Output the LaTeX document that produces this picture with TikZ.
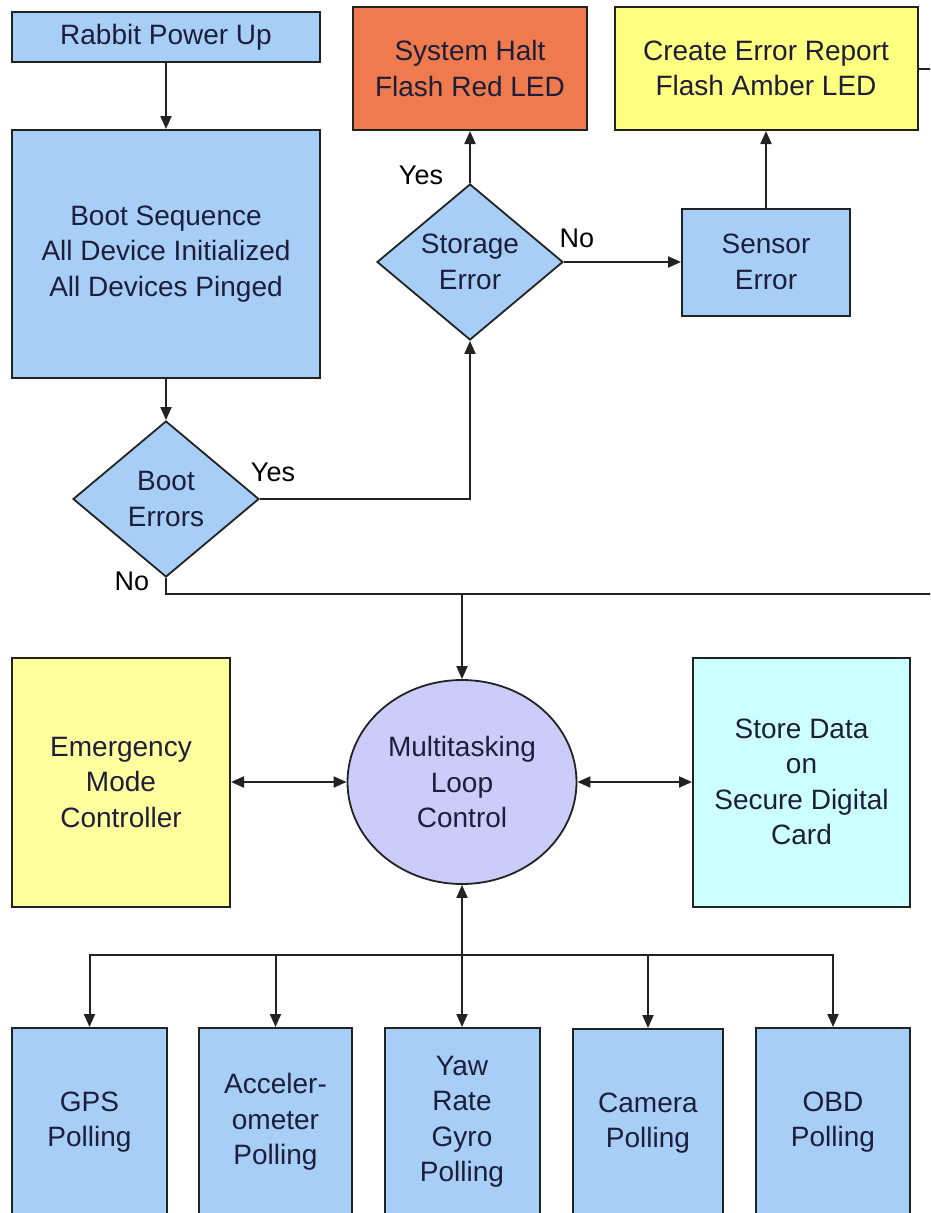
\documentclass[tikz,border=0pt]{standalone}
\usepackage{fontspec}
\setmainfont{Liberation Sans}
\usetikzlibrary{shapes.geometric,arrows.meta}
\definecolor{boxblue}{HTML}{A6CEF6}
\definecolor{haltred}{HTML}{EE7A4E}
\definecolor{reportyellow}{HTML}{FFFF80}
\definecolor{paleyellow}{HTML}{FFFF9E}
\definecolor{palecyan}{HTML}{CCFFFF}
\definecolor{lavender}{HTML}{CCCCFA}
\definecolor{edge}{HTML}{222222}
\definecolor{inkdark}{HTML}{1E1E3A}
\begin{document}
\begin{tikzpicture}[x=1pt,y=-1pt,
  every node/.style={font=\fontsize{28}{35.5}\selectfont, text=inkdark, align=center},
  block/.style={rectangle, draw=edge, line width=2pt, inner sep=0pt},
  decision/.style={diamond, draw=edge, fill=boxblue, line width=1.8pt, inner sep=0pt,
    minimum width=186pt, minimum height=156pt},
  link/.style={line width=2pt, draw=edge},
  arr/.style={link, -{Triangle[length=13pt,width=11pt]}},
  twoway/.style={link, {Triangle[length=13pt,width=11pt]}-{Triangle[length=13pt,width=11pt]}},
  tag/.style={font=\fontsize{27}{32}\selectfont, text=black}
]
\useasboundingbox (0,0) rectangle (930,1213);
\clip (0,0) rectangle (930,1213);

% start-up and error handling
\node[block, fill=boxblue, minimum width=308pt, minimum height=50pt] (power) at (166,37) {Rabbit Power Up};
\node[block, fill=boxblue, minimum width=308pt, minimum height=248pt] (boot) at (166,254)
  {Boot Sequence\\All Device Initialized\\All Devices Pinged};
\node[decision] (booterr) at (166,499) {Boot\\Errors};
\node[decision] (storage) at (470,262) {Storage\\Error};
\node[block, fill=haltred, minimum width=234pt, minimum height=123pt] (halt) at (470,68.5)
  {System Halt\\Flash Red LED};
\node[block, fill=boxblue, minimum width=168pt, minimum height=107pt] (sensor) at (766,262)
  {Sensor\\Error};
\node[block, fill=reportyellow, minimum width=303pt, minimum height=123pt] (report) at (766,68.5)
  {Create Error Report\\Flash Amber LED};

% main loop and its peers
\node[ellipse, draw=edge, fill=lavender, line width=1.8pt, inner sep=0pt,
  minimum width=229pt, minimum height=204pt] (loop) at (462,782) {Multitasking\\Loop\\Control};
\node[block, fill=paleyellow, minimum width=218pt, minimum height=249pt] (emerg) at (121,782)
  {Emergency\\Mode\\Controller};
\node[block, fill=palecyan, minimum width=217pt, minimum height=249pt] (store) at (801.5,782)
  {Store Data\\on\\Secure Digital\\Card};

% polling tasks
\node[block, fill=boxblue, minimum width=155pt, minimum height=188pt] (gps) at (89.5,1122) {GPS\\Polling};
\node[block, fill=boxblue, minimum width=153pt, minimum height=188pt] (accel) at (275.5,1122) {Acceler-\\ometer\\Polling};
\node[block, fill=boxblue, minimum width=155pt, minimum height=188pt] (yaw) at (462,1122) {Yaw\\Rate\\Gyro\\Polling};
\node[block, fill=boxblue, minimum width=150pt, minimum height=188pt] (camera) at (648,1123) {Camera\\Polling};
\node[block, fill=boxblue, minimum width=154pt, minimum height=188pt] (obd) at (833,1122) {OBD\\Polling};

% branch labels
\node[tag] (yesboot) at (273,472) {Yes};
\node[tag] (noboot) at (132,581) {No};
\node[tag] (yesstore) at (421,175) {Yes};
\node[tag] (nostore) at (577,238) {No};

% junction points
\coordinate (noturn) at (166,594);
\coordinate (noend) at (935,594);
\coordinate (loopin) at (462,594);
\coordinate (reportout) at (935,68.5);
\coordinate (hub) at (462,955);

% connectors
\draw[arr] (power) -- (boot);
\draw[arr] (boot) -- (booterr);
\draw[arr] (booterr.east) -| (storage.south);
\draw[arr] (storage.north) -- (halt.south);
\draw[arr] (storage.east) -- (sensor.west);
\draw[arr] (sensor.north) -- (report.south);
\draw[link] (report.east) -- (reportout);
\draw[link] (booterr.south) -- (noturn) -- (noend);
\draw[arr] (loopin) -- (loop.north);
\draw[twoway] (emerg.east) -- (loop.west);
\draw[twoway] (loop.east) -- (store.west);
\draw[arr] (hub) -- (loop.south);
\draw[arr] (hub) -- (yaw.north);
\draw[arr] (hub) -| (gps.north);
\draw[arr] (hub) -| (accel.north);
\draw[arr] (hub) -| (camera.north);
\draw[arr] (hub) -| (obd.north);
\end{tikzpicture}
\end{document}
